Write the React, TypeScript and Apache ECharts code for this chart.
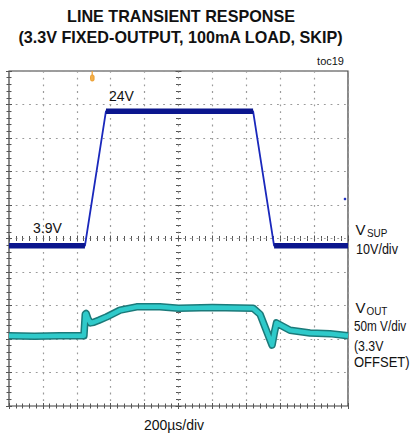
import React, { useEffect, useRef } from "react";
import * as echarts from "echarts";

// Time axis: 200 µs/div, 10 divisions
const TIME_TICKS_US = [0, 200, 400, 600, 800, 1000, 1200, 1400, 1600, 1800, 2000];

// VSUP trace (V)
const vsupTime = [0, 448, 572, 1440, 1564, 2000];
const vsupVolts = [3.9, 3.9, 24, 24, 3.9, 3.9];

// VOUT trace (mV deviation from the 3.3V offset)
const voutTime = [0, 150, 300, 442, 450, 455, 466, 480, 500, 530, 576, 655, 753, 890, 1000, 1200, 1440, 1481, 1552, 1566, 1578, 1658, 1776, 1894, 2000];
const voutMv = [5, 4, 5, 5, 37, 38, 30, 24, 25, 28, 33, 43, 48, 48, 46, 47, 46, 37, -9, 10, 24, 13, 9, 8, 5];

// Labels
const TITLE_1 = "LINE TRANSIENT RESPONSE";
const TITLE_2 = "(3.3V FIXED-OUTPUT, 100mA LOAD, SKIP)";
const TOC = "toc19";
const X_LABEL = "200\u00b5s/div";
const HIGH_LABEL = "24V";
const LOW_LABEL = "3.9V";

const FONT = "'Liberation Sans', Arial, sans-serif";

export default function App() {
  const ref = useRef<HTMLDivElement>(null);

  useEffect(() => {
    if (!ref.current) return;
    const chart = echarts.init(ref.current, undefined, { renderer: "svg" });

    const vsup = vsupTime.map((t, i) => [t, vsupVolts[i]]);
    const vsupFlats: any[] = [];
    for (let i = 0; i < vsupTime.length - 1; i++) {
      if (vsupVolts[i] === vsupVolts[i + 1]) {
        vsupFlats.push([vsupTime[i], vsupVolts[i]]);
        vsupFlats.push([vsupTime[i + 1], vsupVolts[i + 1]]);
        vsupFlats.push([vsupTime[i + 1], "-"]);
      }
    }
    const vout = voutTime.map((t, i) => [t, voutMv[i]]);

    const gridDots = { color: "#9a9a9a", width: 1.2, type: [1.8, 4.9] as any };
    const tickStyle = { color: "#555", width: 1 };

    const xBase = {
      type: "value" as const,
      min: TIME_TICKS_US[0],
      max: TIME_TICKS_US[TIME_TICKS_US.length - 1],
      interval: TIME_TICKS_US[1] - TIME_TICKS_US[0],
      axisLabel: { show: false },
      axisLine: { show: false },
      splitLine: { show: false },
    };
    const yBase = {
      type: "value" as const,
      min: 0,
      max: 10,
      interval: 1,
      axisLabel: { show: false },
      axisLine: { show: false },
      splitLine: { show: false },
    };
    const ticks = (inside: boolean) => ({
      axisTick: { show: true, inside, length: 3, lineStyle: tickStyle },
      minorTick: { show: true, splitNumber: 5, length: 2.5, lineStyle: tickStyle },
    });

    const txt = (
      text: string,
      x: number,
      y: number,
      size: number,
      opts: { bold?: boolean; align?: string; scaleX?: number } = {}
    ) => ({
      type: "text",
      x,
      y,
      scaleX: opts.scaleX ?? 1,
      z: 100,
      style: {
        text,
        fill: "#111",
        font: `${opts.bold ? "bold " : ""}${size}px ${FONT}`,
        align: opts.align ?? "left",
        textAlign: opts.align ?? "left",
        verticalAlign: "middle",
        textVerticalAlign: "middle",
      },
    });

    chart.setOption({
      animation: false,
      backgroundColor: "#fff",
      grid: {
        left: 9,
        top: 71,
        width: 339,
        height: 335,
        show: true,
        borderColor: "#3c3c3c",
        borderWidth: 1.2,
        backgroundColor: "transparent",
      },
      xAxis: [
        { ...xBase, position: "bottom", splitLine: { show: true, lineStyle: gridDots }, ...ticks(true) },
        { ...xBase, position: "top", ...ticks(true) },
        { ...xBase, position: "bottom", offset: -167.5, ...ticks(true) },
        { ...xBase, position: "bottom", offset: -167.5, ...ticks(false) },
      ],
      yAxis: [
        { ...yBase, position: "left", splitLine: { show: true, lineStyle: gridDots }, ...ticks(true) },
        { ...yBase, position: "right", ...ticks(true) },
        { ...yBase, position: "left", offset: -169.5, ...ticks(true) },
        { ...yBase, position: "left", offset: -169.5, ...ticks(false) },
        { type: "value", min: -20, max: 30, show: false },
        { type: "value", min: -100, max: 400, show: false },
      ],
      series: [
        {
          type: "line",
          name: "VOUT band",
          xAxisIndex: 0,
          yAxisIndex: 5,
          data: vout,
          showSymbol: false,
          silent: true,
          z: 3,
          lineStyle: { color: "#1b7a7a", width: 7.5, join: "round" },
        },
        {
          type: "line",
          name: "VOUT",
          xAxisIndex: 0,
          yAxisIndex: 5,
          data: vout,
          showSymbol: false,
          silent: true,
          z: 4,
          lineStyle: { color: "#2fcaca", width: 4.5, join: "round" },
        },
        {
          type: "line",
          name: "VSUP",
          xAxisIndex: 0,
          yAxisIndex: 4,
          data: vsup,
          showSymbol: false,
          silent: true,
          z: 5,
          lineStyle: { color: "#1a28bc", width: 1.8 },
        },
        {
          type: "line",
          name: "VSUP band",
          xAxisIndex: 0,
          yAxisIndex: 4,
          data: vsupFlats,
          showSymbol: false,
          connectNulls: false,
          silent: true,
          z: 6,
          lineStyle: { color: "#0b168e", width: 5.5 },
        },
      ],
      graphic: [
        txt(TITLE_1, 181, 16.5, 17, { bold: true, align: "center", scaleX: 0.95 }),
        txt(TITLE_2, 180.5, 37.5, 17, { bold: true, align: "center", scaleX: 0.95 }),
        txt(TOC, 344, 61, 11, { align: "right" }),
        txt(HIGH_LABEL, 109, 96, 14),
        txt(LOW_LABEL, 33, 227.5, 14),
        txt("V", 355.5, 229.5, 15),
        txt("SUP", 367, 233.5, 11, { scaleX: 0.9 }),
        txt("10V/div", 356, 249, 14, { scaleX: 0.9 }),
        txt("V", 355.5, 307.5, 15),
        txt("OUT", 366.5, 311.5, 11, { scaleX: 0.9 }),
        txt("50m V/div", 354, 326, 14, { scaleX: 0.84 }),
        txt("(3.3V", 354, 346, 14, { scaleX: 0.88 }),
        txt("OFFSET)", 354, 362, 14, { scaleX: 0.93 }),
        txt(X_LABEL, 174, 425, 14, { align: "center" }),
        {
          type: "group",
          z: 100,
          children: [
            { type: "line", shape: { x1: 92.2, y1: 71, x2: 92.2, y2: 75 }, style: { stroke: "#f0a030", lineWidth: 1.2 } },
            { type: "rect", shape: { x: 90.5, y: 75, width: 3.6, height: 6, r: 1.5 }, style: { fill: "#f3b04a", stroke: "#e89420", lineWidth: 0.8 } },
          ],
        },
        { type: "circle", z: 100, shape: { cx: 345, cy: 199, r: 1.3 }, style: { fill: "#2030c0" } },
      ],
    });

    return () => chart.dispose();
  }, []);

  return (
    <div
      ref={ref}
      style={{ position: "fixed", left: 0, top: 0, width: 411, height: 437, background: "#fff" }}
    />
  );
}
